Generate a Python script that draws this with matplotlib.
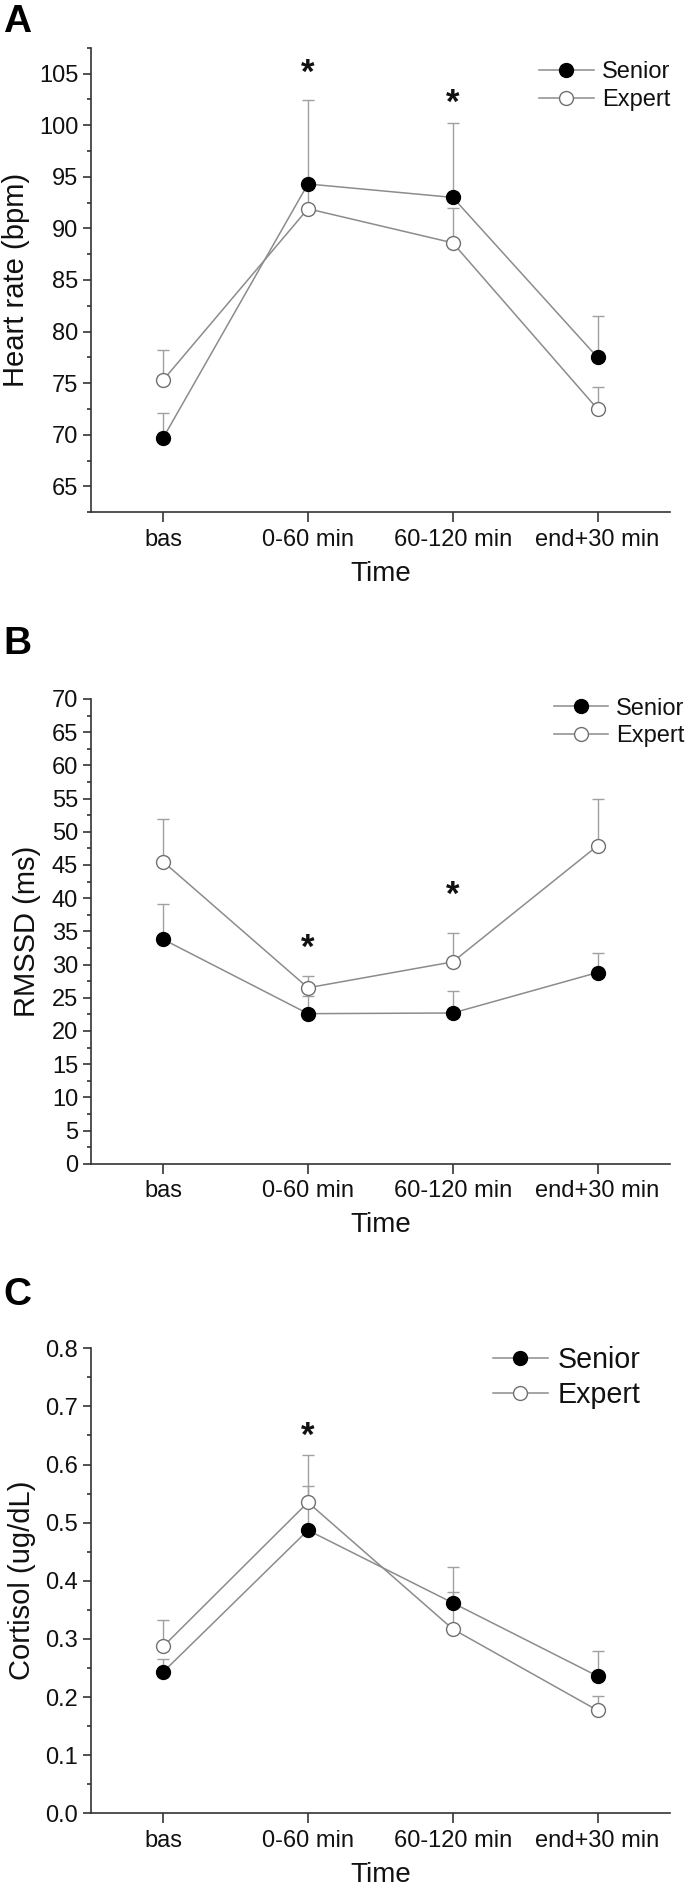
import matplotlib
matplotlib.use("Agg")
import matplotlib.pyplot as plt
from matplotlib.ticker import MultipleLocator, FormatStrFormatter
from matplotlib.lines import Line2D
from matplotlib.transforms import offset_copy

plt.rcParams['font.family'] = ['Liberation Sans', 'DejaVu Sans']

# ---------------- data ----------------
time_labels = ["bas", "0-60 min", "60-120 min", "end+30 min"]
groups = ["Senior", "Expert"]

hr_senior = [69.7, 94.3, 93.0, 77.5]
hr_senior_err = [2.4, 8.1, 7.2, 4.0]
hr_expert = [75.3, 91.9, 88.6, 72.5]
hr_expert_err = [2.9, 2.0, 3.4, 2.1]
hr_stars = [(2, 105.4), (3, 102.5)]

rmssd_senior = [33.8, 22.6, 22.7, 28.8]
rmssd_senior_err = [5.3, 2.6, 3.3, 2.9]
rmssd_expert = [45.5, 26.5, 30.4, 47.9]
rmssd_expert_err = [6.4, 1.8, 4.3, 7.0]
rmssd_stars = [(2, 33.0), (3, 41.0)]

cort_senior = [0.243, 0.487, 0.362, 0.236]
cort_senior_err = [0.023, 0.076, 0.019, 0.044]
cort_expert = [0.287, 0.535, 0.317, 0.177]
cort_expert_err = [0.046, 0.081, 0.107, 0.025]
cort_stars = [(2, 0.655)]

W, H = 685, 1895
fig = plt.figure(figsize=(W / 100, H / 100), dpi=100)

LINE_C = '#8c8c8c'
ERR_C = '#a0a0a0'
SPINE_C = '#333333'
TXT_C = '#111111'


def px_rect(left, top, right, bottom):
    return [left / W, 1 - bottom / H, (right - left) / W, (bottom - top) / H]


def panel(rect, s, s_err, e, e_err, ylim, major, minor, fmt, ylabel,
          ylabel_x, stars, letter, letter_y, leg_x, leg_y, leg_fs):
    ax = fig.add_axes(rect)
    x = [1, 2, 3, 4]
    zeros = [0] * 4
    ax.errorbar(x, e, yerr=[zeros, e_err], fmt='none', ecolor=ERR_C,
                elinewidth=1.0, capsize=4, capthick=1.0, zorder=2)
    ax.errorbar(x, s, yerr=[zeros, s_err], fmt='none', ecolor=ERR_C,
                elinewidth=1.0, capsize=4, capthick=1.0, zorder=2)
    ax.plot(x, e, '-', color=LINE_C, lw=1.1, marker='o', ms=10,
            mfc='white', mec='#707070', mew=1.0, zorder=3)
    ax.plot(x, s, '-', color=LINE_C, lw=1.1, marker='o', ms=10,
            mfc='black', mec='black', mew=1.0, zorder=4)
    star_tr = offset_copy(ax.transData, fig=fig, x=0, y=-3, units='points')
    for sx, sy in stars:
        ax.text(sx, sy, '*', ha='center', va='center', fontsize=25,
                fontweight='bold', color=TXT_C, transform=star_tr)
    ax.set_xlim(0.5, 4.5)
    ax.set_ylim(*ylim)
    ax.set_xticks(x)
    ax.set_xticklabels(time_labels)
    ax.yaxis.set_major_locator(MultipleLocator(major))
    ax.yaxis.set_minor_locator(MultipleLocator(minor))
    ax.yaxis.set_major_formatter(FormatStrFormatter(fmt))
    for sp in ['top', 'right']:
        ax.spines[sp].set_visible(False)
    for sp in ['left', 'bottom']:
        ax.spines[sp].set_color(SPINE_C)
        ax.spines[sp].set_linewidth(1.2)
    ax.tick_params(axis='both', which='major', direction='out', length=6,
                   width=1.2, color=SPINE_C, labelsize=17, pad=3,
                   labelcolor=TXT_C)
    ax.tick_params(axis='x', which='major', length=7, pad=5)
    ax.tick_params(axis='y', which='minor', direction='out', length=3,
                   width=1.2, color=SPINE_C)
    ax.set_ylabel(ylabel, fontsize=21, color=TXT_C)
    ax.yaxis.set_label_coords(ylabel_x, 0.5)
    ax.set_xlabel('Time', fontsize=20, color=TXT_C, labelpad=7)
    fig.text(3 / W, 1 - letter_y / H, letter, fontsize=28,
             fontweight='bold', ha='left', va='top')
    handles = [
        Line2D([], [], color=LINE_C, lw=1.1, marker='o', ms=10,
               mfc='black', mec='black'),
        Line2D([], [], color=LINE_C, lw=1.1, marker='o', ms=10,
               mfc='white', mec='#707070'),
    ]
    fig.legend(handles, groups, loc='center left',
               bbox_to_anchor=(leg_x / W, 1 - leg_y / H),
               bbox_transform=fig.transFigure, frameon=False,
               fontsize=leg_fs, borderpad=0, borderaxespad=0,
               handlelength=2.3 * 17 / leg_fs, handletextpad=0.35,
               labelspacing=0.25, labelcolor=TXT_C)
    return ax


panel(px_rect(90.7, 47.7, 670, 512.3), hr_senior, hr_senior_err,
      hr_expert, hr_expert_err, (62.5, 107.5), 5, 2.5, '%d',
      'Heart rate (bpm)', -0.105, hr_stars, 'A', 4, 539.3, 86.3, 17)

panel(px_rect(90.7, 699, 670, 1163.7), rmssd_senior, rmssd_senior_err,
      rmssd_expert, rmssd_expert_err, (0, 70), 5, 2.5, '%d',
      'RMSSD (ms)', -0.085, rmssd_stars, 'B', 626, 553.6, 722.5, 17)

panel(px_rect(90.7, 1348.3, 670, 1813.3), cort_senior, cort_senior_err,
      cort_expert, cort_expert_err, (0, 0.8), 0.1, 0.05, '%.1f',
      'Cortisol (ug/dL)', -0.095, cort_stars, 'C', 1277, 493.3, 1377.2,
      20.6)

fig.savefig('out.png', dpi=100)
